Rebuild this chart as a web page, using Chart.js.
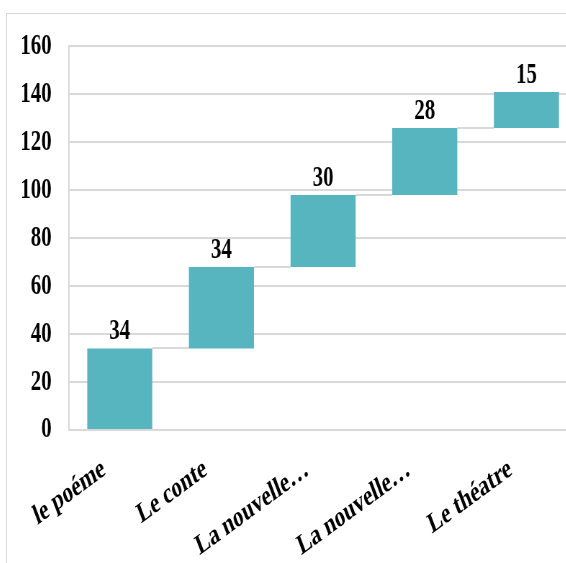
<!DOCTYPE html>
<html>
<head>
<meta charset="utf-8">
<script src="https://cdn.jsdelivr.net/npm/chart.js@4.4.0/dist/chart.umd.min.js"></script>
<style>
  html, body { margin: 0; padding: 0; background: #fff; overflow: hidden; }
  #frame { position: absolute; left: 6px; top: 13px; width: 640px; height: 620px; border: 1px solid #d9d9d9; overflow: hidden; }
  /* narrow, tall lettering: the whole canvas is squeezed horizontally */
  #chart { position: absolute; left: 0; top: -9px; transform: scaleX(0.72); transform-origin: 0 0; }
</style>
</head>
<body>
<div id="frame"><canvas id="chart" width="820" height="580"></canvas></div>
<script>
const categories = ["le poéme", "Le conte", "La nouvelle…", "La nouvelle…", "Le théatre"];
const values = [34, 34, 30, 28, 15];
const yTicks = [0, 20, 40, 60, 80, 100, 120, 140, 160];

const barColor = "#57b5c0";
const lineColor = "#d9d9d9";
const serif = "'Liberation Serif', 'Times New Roman', serif";

// running totals -> floating [start, end] bars
const ranges = [];
let total = 0;
values.forEach(v => {
  ranges.push([total, total + v]);
  total += v;
});

// grey steps joining one bar's top to the next bar
const connectors = {
  id: "connectors",
  beforeDatasetsDraw(chart) {
    const ctx = chart.ctx;
    const bars = chart.getDatasetMeta(0).data;
    const y = chart.scales.y;
    ctx.save();
    ctx.strokeStyle = lineColor;
    ctx.lineWidth = 2;
    for (let i = 0; i < bars.length - 1; i++) {
      const py = Math.round(y.getPixelForValue(ranges[i][1]));
      ctx.beginPath();
      ctx.moveTo(bars[i].x + bars[i].width / 2, py);
      ctx.lineTo(bars[i + 1].x - bars[i + 1].width / 2, py);
      ctx.stroke();
    }
    ctx.restore();
  }
};

// value written above every bar
const valueLabels = {
  id: "valueLabels",
  afterDatasetsDraw(chart) {
    const ctx = chart.ctx;
    const bars = chart.getDatasetMeta(0).data;
    ctx.save();
    ctx.fillStyle = "#000";
    ctx.font = "bold 29px " + serif;
    ctx.textAlign = "center";
    ctx.textBaseline = "alphabetic";
    bars.forEach((bar, i) => {
      ctx.fillText(String(values[i]), bar.x, bar.y - 9);
    });
    ctx.restore();
  }
};

new Chart(document.getElementById("chart").getContext("2d"), {
  type: "bar",
  data: {
    labels: categories,
    datasets: [{
      data: ranges,
      backgroundColor: barColor,
      borderWidth: 0,
      barPercentage: 0.64,
      categoryPercentage: 1
    }]
  },
  options: {
    responsive: false,
    animation: false,
    layout: { padding: { top: 0, right: 28, left: 0, bottom: 0 } },
    plugins: {
      legend: { display: false },
      tooltip: { enabled: false }
    },
    scales: {
      x: {
        grid: { display: false },
        border: { color: lineColor, width: 2 },
        ticks: {
          color: "#000",
          font: { family: serif, size: 29, weight: "bold" },
          minRotation: 28,
          maxRotation: 28,
          padding: 14,
          labelOffset: -22,
          autoSkip: false
        },
        afterFit(scale) { scale.height = 155; }
      },
      y: {
        min: 0,
        max: 160,
        afterBuildTicks(scale) { scale.ticks = yTicks.map(v => ({ value: v })); },
        grid: { color: lineColor, lineWidth: 2, drawTicks: false },
        border: { color: lineColor, width: 2 },
        ticks: {
          color: "#000",
          font: { family: serif, size: 29, weight: "bold" },
          padding: 24
        },
        afterFit(scale) { scale.width = 86; }
      }
    }
  },
  plugins: [connectors, valueLabels]
});
</script>
</body>
</html>
